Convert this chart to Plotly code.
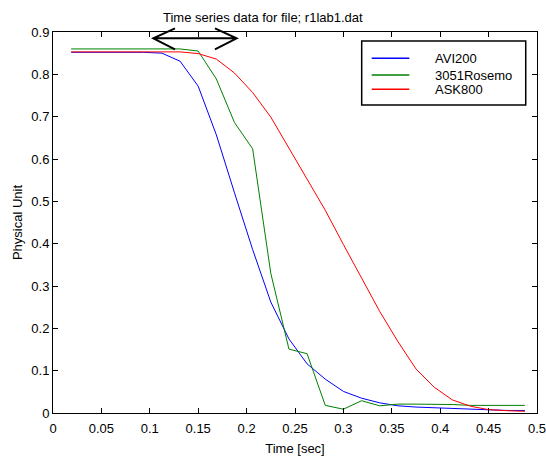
import plotly.graph_objects as go

# sample times [sec]
time_s = [0.01875, 0.0375, 0.05625, 0.075, 0.09375, 0.1125, 0.13125, 0.15,
          0.16875, 0.1875, 0.20625, 0.225, 0.24375, 0.2625, 0.28125, 0.3,
          0.31875, 0.3375, 0.35625, 0.375, 0.39375, 0.4125, 0.43125, 0.45,
          0.46875, 0.4875]

avi200 = [0.852, 0.852, 0.852, 0.852, 0.852, 0.850, 0.831, 0.772, 0.657,
          0.520, 0.386, 0.262, 0.175, 0.116, 0.080, 0.051, 0.035, 0.024,
          0.017, 0.014, 0.0125, 0.0094, 0.0078, 0.0066, 0.006, 0.006]
rosemo3051 = [0.860, 0.860, 0.860, 0.860, 0.860, 0.860, 0.860, 0.855, 0.789,
              0.686, 0.624, 0.330, 0.151, 0.140, 0.018, 0.009, 0.029, 0.017,
              0.021, 0.021, 0.021, 0.020, 0.018, 0.018, 0.018, 0.018]
ask800 = [0.853, 0.853, 0.853, 0.853, 0.853, 0.853, 0.853, 0.849, 0.836,
          0.803, 0.757, 0.699, 0.626, 0.551, 0.479, 0.398, 0.319, 0.240,
          0.169, 0.104, 0.061, 0.031, 0.016, 0.008, 0.0055, 0.004]

series_names = ["AVI200", "3051Rosemo", "ASK800"]
series_colors = ["#0000ff", "#008000", "#ff0000"]

x_ticks = [0, 0.05, 0.1, 0.15, 0.2, 0.25, 0.3, 0.35, 0.4, 0.45, 0.5]
x_labels = ["0", "0.05", "0.1", "0.15", "0.2", "0.25", "0.3", "0.35", "0.4", "0.45", "0.5"]
y_ticks = [0, 0.1, 0.2, 0.3, 0.4, 0.5, 0.6, 0.7, 0.8, 0.9]
y_labels = ["0", "0.1", "0.2", "0.3", "0.4", "0.5", "0.6", "0.7", "0.8", "0.9"]

title_text = "Time series data for file; r1lab1.dat"

FONT = "Liberation Sans, Arial, sans-serif"

fig = go.Figure()
for name, vals, col in zip(series_names, [avi200, rosemo3051, ask800], series_colors):
    fig.add_trace(go.Scatter(x=time_s, y=vals, mode="lines", name=name,
                             line=dict(color=col, width=1), showlegend=False))

# double-headed arrow under the title (x in data units, y in paper units)
ax0, ax1, head = 0.1036, 0.1897, 0.0224
ay, ay_up, ay_dn = 0.9835, 1.0097, 0.9546
arrow_path = (f"M {ax0 + head},{ay_up} L {ax0},{ay} L {ax0 + head},{ay_dn} "
              f"M {ax0},{ay} L {ax1},{ay} "
              f"M {ax1 - head},{ay_up} L {ax1},{ay} L {ax1 - head},{ay_dn}")
fig.add_shape(type="path", path=arrow_path, xref="x", yref="paper",
              line=dict(color="black", width=2))

fig.add_annotation(text=title_text, x=0.2168, xref="x", y=1.039, yref="paper",
                   xanchor="center", yanchor="middle", showarrow=False,
                   font=dict(size=13, color="black", family=FONT))

# legend box drawn by hand (matlab style: long sample line, tight rows)
fig.add_shape(type="rect", xref="paper", yref="paper",
              x0=0.6378, x1=0.9767, y0=0.8084, y1=0.9764,
              line=dict(color="black", width=1.5), fillcolor="white", layer="above")
legend_rows = [0.931, 0.8871, 0.8496]
for name, col, ry in zip(series_names, series_colors, legend_rows):
    fig.add_shape(type="line", xref="paper", yref="paper",
                  x0=0.6585, x1=0.7362, y0=ry, y1=ry,
                  line=dict(color=col, width=1.5), layer="above")
    fig.add_annotation(text=name, xref="paper", yref="paper", x=0.7857, y=ry,
                       xanchor="left", yanchor="middle", showarrow=False,
                       font=dict(size=13, color="black", family=FONT))

axis_common = dict(showline=True, linecolor="black", linewidth=1, mirror="ticks",
                   ticks="inside", ticklen=5, tickcolor="black", showgrid=False,
                   zeroline=False, automargin=False, ticklabeloverflow="allow",
                   tickfont=dict(size=13, color="black", family=FONT))

fig.update_xaxes(range=[0, 0.5], tickvals=x_ticks, ticktext=x_labels,
                 ticklabelstandoff=3,
                 title=dict(text="Time [sec]", font=dict(size=13, color="black", family=FONT),
                            standoff=9),
                 **axis_common)
fig.update_yaxes(range=[0, 0.9], tickvals=y_ticks, ticktext=y_labels,
                 title=dict(text="Physical Unit", font=dict(size=13, color="black", family=FONT),
                            standoff=5),
                 **axis_common)

fig.update_layout(
    width=546, height=457,
    margin=dict(l=53, r=9, t=32, b=44),
    plot_bgcolor="white", paper_bgcolor="white",
    font=dict(family=FONT, size=13, color="black"),
    showlegend=False,
)

# remove the default page margin so the figure sits at the window's corner
fig.write_html("out.html", config={"displayModeBar": False},
               post_script="document.body.style.margin='0';")
